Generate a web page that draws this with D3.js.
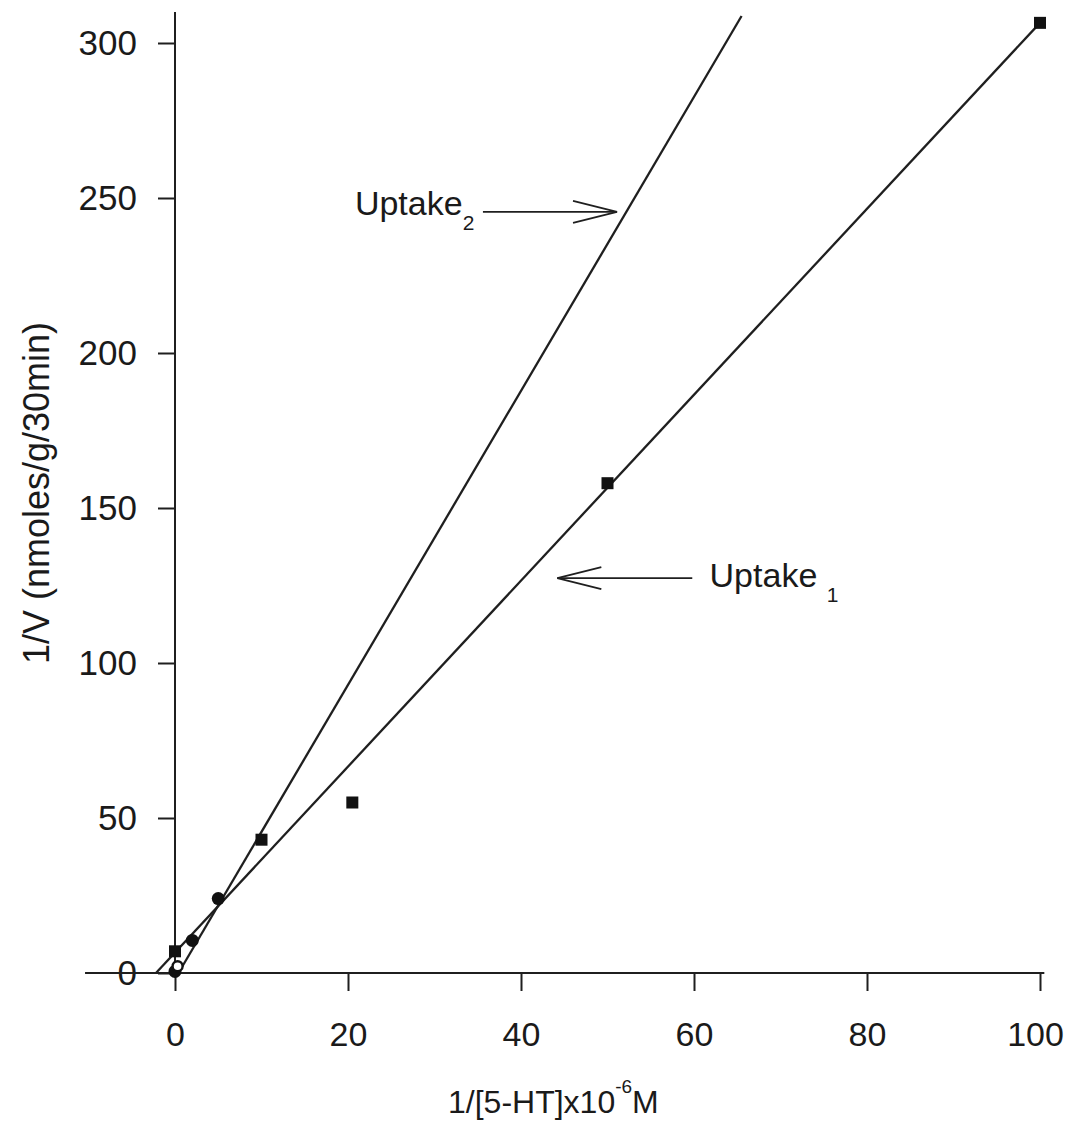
<!DOCTYPE html>
<html>
<head>
<meta charset="utf-8">
<script src="https://cdn.jsdelivr.net/npm/d3@7"></script>
<style>
  html, body { margin: 0; padding: 0; background: #fff; }
  svg { display: block; }
  text { font-family: "Liberation Sans", Arial, sans-serif; fill: #1a1a1a; }
</style>
</head>
<body>
<svg id="chart" width="1068" height="1129"></svg>
<script>
// ---- data ----
const xTicks = [0, 20, 40, 60, 80, 100];
const yTicks = [0, 50, 100, 150, 200, 250, 300];
const xAxisExtent = [-10.4, 100.5];
const yAxisExtent = [0, 310];

// measured points (1/[S], 1/V)
const squarePoints = [[0, 7], [10, 43], [20.5, 55], [50, 158], [100, 306.5]];
const filledCircles = [[0, 0.5], [2, 10.5], [5, 24]];
const openCircles = [[0.3, 2.2]];

// fitted lines (endpoints in data units)
const uptake1Line = [[-2.2, 0], [100, 306.5]];
const uptake2Line = [[0.4, 0], [65.5, 308.7]];

// annotations
const annUptake2 = { label: "Uptake", sub: "2", at: [20.8, 244.5], tail: [35.6, 245.5], tip: [51.1, 245.5] };
const annUptake1 = { label: "Uptake ", sub: "1", at: [61.8, 124.5], tail: [59.8, 127.4], tip: [44.2, 127.4] };

const xTitle = "1/[5-HT]x10";
const xTitleSup = "-6";
const xTitleEnd = "M";
const yTitle = "1/V (nmoles/g/30min)";

// ---- drawing ----
const svg = d3.select("#chart");
const ink = "#1f1f1f";

const x = d3.scaleLinear().domain([0, 100]).range([175, 1040]);
const y = d3.scaleLinear().domain([0, 300]).range([973, 43]);

const xAxis = d3.axisBottom(x).tickValues(xTicks).tickSize(18).tickPadding(31).tickSizeOuter(0);
const yAxis = d3.axisLeft(y).tickValues(yTicks).tickSize(17).tickPadding(21).tickSizeOuter(0);

const gx = svg.append("g").attr("transform", `translate(0,${y(0)})`).call(xAxis);
const gy = svg.append("g").attr("transform", `translate(${x(0)},0)`).call(yAxis);
[gx, gy].forEach(g => {
  g.select(".domain").remove();
  g.selectAll(".tick line").attr("stroke", ink).attr("stroke-width", 2);
  g.selectAll(".tick text").attr("font-size", 35).attr("fill", ink)
    .style("font-family", '"Liberation Sans", Arial, sans-serif');
});
gx.selectAll(".tick text").attr("font-size", 34);
gx.selectAll(".tick text").filter(d => d === xTicks[xTicks.length - 1]).attr("dx", -5);

svg.append("line")
  .attr("x1", x(xAxisExtent[0])).attr("x2", x(xAxisExtent[1]))
  .attr("y1", y(0)).attr("y2", y(0))
  .attr("stroke", ink).attr("stroke-width", 2);
svg.append("line")
  .attr("x1", x(0)).attr("x2", x(0))
  .attr("y1", y(yAxisExtent[0])).attr("y2", y(yAxisExtent[1]))
  .attr("stroke", ink).attr("stroke-width", 2);

const lineGen = d3.line().x(d => x(d[0])).y(d => y(d[1]));
[uptake1Line, uptake2Line].forEach(l => {
  svg.append("path").attr("d", lineGen(l))
    .attr("fill", "none").attr("stroke", ink).attr("stroke-width", 2.3);
});

svg.selectAll(".sq").data(squarePoints).join("rect")
  .attr("x", d => x(d[0]) - 6).attr("y", d => y(d[1]) - 6)
  .attr("width", 12).attr("height", 12).attr("fill", "#111");
svg.selectAll(".fc").data(filledCircles).join("circle")
  .attr("cx", d => x(d[0])).attr("cy", d => y(d[1])).attr("r", 6.5).attr("fill", "#111");
svg.selectAll(".oc").data(openCircles).join("circle")
  .attr("cx", d => x(d[0])).attr("cy", d => y(d[1])).attr("r", 5)
  .attr("fill", "#fff").attr("stroke", "#111").attr("stroke-width", 2.4);

function annotate(a) {
  const t = svg.append("text").attr("x", x(a.at[0])).attr("y", y(a.at[1]))
    .attr("font-size", 34);
  t.append("tspan").text(a.label);
  t.append("tspan").attr("font-size", 21).attr("dy", 15).text(a.sub);
  const x1 = x(a.tail[0]), y1 = y(a.tail[1]), x2 = x(a.tip[0]), y2 = y(a.tip[1]);
  svg.append("line").attr("x1", x1).attr("y1", y1).attr("x2", x2).attr("y2", y2)
    .attr("stroke", ink).attr("stroke-width", 1.8);
  const dir = Math.sign(x1 - x2);
  svg.append("path")
    .attr("d", `M${x2 + dir * 44},${y2 - 11}L${x2},${y2}L${x2 + dir * 44},${y2 + 11}`)
    .attr("fill", "none").attr("stroke", ink).attr("stroke-width", 1.8);
}
annotate(annUptake2);
annotate(annUptake1);

const xt = svg.append("text").attr("x", 448).attr("y", 1113).attr("font-size", 32);
xt.append("tspan").text(xTitle);
xt.append("tspan").attr("font-size", 19).attr("dy", -20).text(xTitleSup);
xt.append("tspan").attr("dy", 20).text(xTitleEnd);

svg.append("text")
  .attr("transform", `translate(49,493) rotate(-90)`)
  .attr("text-anchor", "middle").attr("font-size", 36)
  .text(yTitle);
</script>
</body>
</html>
